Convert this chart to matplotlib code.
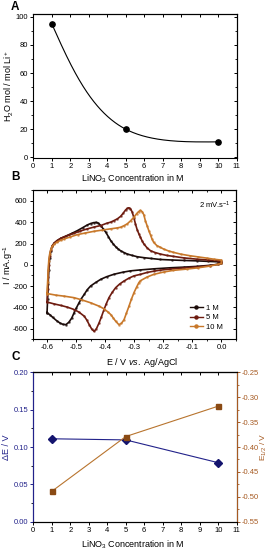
import numpy as np
import matplotlib
matplotlib.use('Agg')
import matplotlib.pyplot as plt
from matplotlib.ticker import MultipleLocator, FormatStrFormatter
from matplotlib.lines import Line2D

plt.rcParams['font.family'] = ['Liberation Sans', 'DejaVu Sans']
plt.rcParams['axes.unicode_minus'] = False
plt.rcParams['mathtext.fontset'] = 'custom'
plt.rcParams['mathtext.rm'] = 'Liberation Sans'
plt.rcParams['mathtext.it'] = 'Liberation Sans:italic'
plt.rcParams['axes.linewidth'] = 0.8

# ---------------- data ----------------
# Panel A
conc_A = [1, 5, 10]
water_per_li = [95, 20, 11]

# Panel B : cyclic voltammograms (E in V, I in mA/g), anodic branch then cathodic branch
E_1M_up = [-0.600, -0.598, -0.596, -0.594, -0.591, -0.587, -0.582, -0.575, -0.565, -0.552,
           -0.535, -0.515, -0.495, -0.478, -0.461, -0.450, -0.440, -0.432, -0.424, -0.415,
           -0.406, -0.398, -0.389, -0.381, -0.372, -0.364, -0.355, -0.347, -0.335, -0.324,
           -0.307, -0.290, -0.267, -0.244, -0.210, -0.170, -0.130, -0.085, -0.045, -0.011, 0.000]
I_1M_up = [-450, -320, -180, -50, 60, 130, 175, 205, 228, 250,
           270, 295, 322, 348, 375, 388, 396, 398, 392, 369,
           335, 306, 265, 227, 195, 170, 148, 132, 115, 101,
           88, 76, 67, 60, 50, 45, 41, 37, 32, 28, 25]
E_1M_dn = [0.000, -0.011, -0.040, -0.085, -0.130, -0.176, -0.233, -0.279, -0.313, -0.340,
           -0.370, -0.395, -0.415, -0.432, -0.450, -0.462, -0.472, -0.482, -0.490, -0.500,
           -0.507, -0.515, -0.525, -0.535, -0.545, -0.555, -0.567, -0.580, -0.590, -0.600]
I_1M_dn = [15, 5, -5, -15, -22, -28, -38, -48, -57, -70,
           -89, -112, -136, -165, -199, -235, -278, -318, -357, -410,
           -451, -500, -540, -562, -560, -548, -525, -495, -470, -450]

E_5M_up = [-0.600, -0.598, -0.596, -0.594, -0.591, -0.587, -0.582, -0.575, -0.565, -0.552,
           -0.541, -0.525, -0.507, -0.485, -0.461, -0.438, -0.415, -0.395, -0.381, -0.370,
           -0.358, -0.347, -0.338, -0.330, -0.324, -0.319, -0.313, -0.307, -0.301, -0.296,
           -0.290, -0.284, -0.279, -0.273, -0.267, -0.256, -0.244, -0.228, -0.210, -0.188,
           -0.165, -0.130, -0.085, -0.045, -0.011, 0.000]
I_5M_up = [-350, -230, -110, 0, 80, 140, 180, 205, 228, 250,
           262, 280, 296, 318, 338, 355, 369, 390, 401, 415,
           432, 455, 485, 515, 530, 536, 528, 495, 440, 385,
           330, 290, 260, 225, 196, 160, 132, 115, 101, 88,
           79, 65, 53, 45, 38, 35]
E_5M_dn = [0.000, -0.011, -0.040, -0.085, -0.130, -0.176, -0.210, -0.233, -0.256, -0.279,
           -0.301, -0.318, -0.335, -0.350, -0.364, -0.376, -0.387, -0.396, -0.404, -0.413,
           -0.421, -0.430, -0.438, -0.446, -0.455, -0.463, -0.472, -0.490, -0.507, -0.530,
           -0.552, -0.575, -0.600]
I_5M_dn = [15, 5, -8, -20, -30, -40, -50, -60, -72, -90,
           -104, -125, -152, -180, -215, -260, -309, -365, -420, -490,
           -546, -600, -625, -605, -562, -520, -483, -445, -420, -398,
           -382, -368, -350]

E_10M_up = [-0.600, -0.598, -0.596, -0.594, -0.591, -0.587, -0.582, -0.575, -0.565, -0.552,
            -0.541, -0.520, -0.495, -0.470, -0.438, -0.410, -0.381, -0.360, -0.347, -0.335,
            -0.324, -0.312, -0.301, -0.292, -0.285, -0.279, -0.273, -0.267, -0.262, -0.256,
            -0.250, -0.244, -0.239, -0.233, -0.222, -0.210, -0.199, -0.182, -0.165, -0.140,
            -0.108, -0.080, -0.051, -0.025, 0.000]
I_10M_up = [-270, -160, -50, 40, 100, 145, 175, 195, 215, 232,
            243, 262, 284, 298, 315, 326, 338, 346, 353, 368,
            385, 415, 448, 480, 500, 511, 500, 470, 416, 369,
            322, 280, 243, 210, 180, 164, 148, 130, 117, 100,
            85, 74, 63, 52, 44]
E_10M_dn = [0.000, -0.011, -0.040, -0.080, -0.119, -0.165, -0.199, -0.233, -0.256, -0.279,
            -0.284, -0.292, -0.301, -0.310, -0.318, -0.327, -0.335, -0.344, -0.353, -0.364,
            -0.372, -0.381, -0.392, -0.404, -0.420, -0.450, -0.480, -0.507, -0.540, -0.570, -0.600]
I_10M_dn = [15, 5, -12, -28, -40, -52, -68, -90, -115, -150,
            -167, -210, -262, -325, -388, -455, -515, -550, -562, -530,
            -500, -467, -440, -414, -390, -357, -330, -309, -295, -285, -270]

cv_labels = ['1 M', '5 M', '10 M']
cv_colors = ['#1c0c0a', '#6e1c10', '#c8782a']

# Panel C
conc_C = [1, 5, 10]
delta_E = [0.111, 0.1095, 0.079]
E_half = [-0.489, -0.379, -0.318]

FS_TICK = 5.5
FS_LAB = 6.5
W, H = 269, 550

fig = plt.figure(figsize=(W / 100, H / 100), dpi=100)


def natural_spline(t, f, tq):
    t = np.asarray(t, float); f = np.asarray(f, float)
    n = len(t); h = np.diff(t)
    A = np.zeros((n, n)); r = np.zeros(n)
    A[0, 0] = 1; A[-1, -1] = 1
    for i in range(1, n - 1):
        A[i, i - 1] = h[i - 1]; A[i, i] = 2 * (h[i - 1] + h[i]); A[i, i + 1] = h[i]
        r[i] = 6 * ((f[i + 1] - f[i]) / h[i] - (f[i] - f[i - 1]) / h[i - 1])
    M = np.linalg.solve(A, r)
    idx = np.clip(np.searchsorted(t, tq) - 1, 0, n - 2)
    t0 = t[idx]; t1 = t[idx + 1]; hh = t1 - t0
    a = (t1 - tq) / hh; b = (tq - t0) / hh
    return a * f[idx] + b * f[idx + 1] + ((a ** 3 - a) * M[idx] + (b ** 3 - b) * M[idx + 1]) * hh ** 2 / 6


def screen_spline(ax, x, y, n=300):
    """Parametric natural spline in screen space (like Origin's spline connect)."""
    fw, fh = fig.get_size_inches() * fig.dpi
    pos = ax.get_position()
    x0, x1 = ax.get_xlim(); y0, y1 = ax.get_ylim()
    sx = pos.width * fw / (x1 - x0); sy = pos.height * fh / (y1 - y0)
    px = (np.asarray(x, float) - x0) * sx
    py = (np.asarray(y, float) - y0) * sy
    s = np.concatenate([[0], np.cumsum(np.hypot(np.diff(px), np.diff(py)))])
    tq = np.linspace(0, s[-1], n)
    return natural_spline(s, px, tq) / sx + x0, natural_spline(s, py, tq) / sy + y0


def style(ax, xmaj, xmin, ymaj, ymin, right_in=True):
    ax.tick_params(which='major', direction='out', length=2.3, width=0.7, labelsize=FS_TICK, pad=1.3)
    ax.tick_params(which='minor', direction='out', length=1.4, width=0.6)
    ax.xaxis.set_major_locator(MultipleLocator(xmaj))
    ax.yaxis.set_major_locator(MultipleLocator(ymaj))
    if xmin:
        ax.xaxis.set_minor_locator(MultipleLocator(xmin))
    if ymin:
        ax.yaxis.set_minor_locator(MultipleLocator(ymin))
    top = ax.secondary_xaxis('top')
    top.xaxis.set_major_locator(MultipleLocator(xmaj))
    if xmin:
        top.xaxis.set_minor_locator(MultipleLocator(xmin))
    top.tick_params(which='major', direction='in', length=2.3, width=0.7, labeltop=False)
    top.tick_params(which='minor', direction='in', length=1.4, width=0.6)
    if right_in:
        right = ax.secondary_yaxis('right')
        right.yaxis.set_major_locator(MultipleLocator(ymaj))
        if ymin:
            right.yaxis.set_minor_locator(MultipleLocator(ymin))
        right.tick_params(which='major', direction='in', length=2.3, width=0.7, labelright=False)
        right.tick_params(which='minor', direction='in', length=1.4, width=0.6)


def fx(px):
    return px / W


def fy(py):
    return 1 - py / H


# ---------------- Panel A ----------------
axA = fig.add_axes([fx(33.3), fy(158.3), (236.7 - 33.3) / W, (158.3 - 14) / H])
axA.set_xlim(0, 11)
axA.set_ylim(-0.7, 102)
xs, ys = screen_spline(axA, conc_A, water_per_li)
axA.plot(xs, ys, color='black', lw=0.8)
axA.plot(conc_A, water_per_li, 'o', color='black', ms=3.8)
style(axA, 1, None, 20, 10)
axA.set_xlabel('LiNO$_3$ Concentration in M', fontsize=FS_LAB)
axA.set_ylabel('H$_2$O mol / mol Li$^+$', fontsize=FS_LAB)
axA.xaxis.set_label_coords(0.49, -0.10)
axA.yaxis.set_label_coords(-0.085, 0.5)

# ---------------- Panel B ----------------
axB = fig.add_axes([fx(32.5), fy(339.3), (236 - 32.5) / W, (339.3 - 190.3) / H])
axB.set_xlim(-0.65, 0.05)
axB.set_ylim(-700, 700)
cv_E = [E_1M_up + E_1M_dn, E_5M_up + E_5M_dn, E_10M_up + E_10M_dn]
cv_I = [I_1M_up + I_1M_dn, I_5M_up + I_5M_dn, I_10M_up + I_10M_dn]
handles = []
for E, I, lab, col in zip(cv_E, cv_I, cv_labels, cv_colors):
    axB.plot(E, I, '-', color=col, lw=1.2, solid_joinstyle='round')
    axB.plot(E, I, 'o', color=col, ms=0.9, alpha=0.6)
    handles.append(Line2D([], [], color=col, lw=1.0, marker='o', ms=2.2, label=lab))
style(axB, 0.1, 0.05, 200, 100)
axB.xaxis.set_major_formatter(FormatStrFormatter('%.1f'))
axB.set_xlabel('E / V $\\it{vs.}$ Ag/AgCl', fontsize=FS_LAB)
axB.set_ylabel('I / mA.g$^{-1}$', fontsize=FS_LAB)
axB.xaxis.set_label_coords(0.54, -0.11)
axB.yaxis.set_label_coords(-0.086, 0.5)
axB.text(0.975, 0.9, '2 mV.s$^{-1}$', transform=axB.transAxes, ha='right', va='center', fontsize=FS_TICK)
axB.legend(handles=handles, loc='lower right', bbox_to_anchor=(0.96, 0.02), frameon=False,
           fontsize=FS_TICK, handlelength=1.6, handletextpad=0.4, labelspacing=0.3, borderpad=0.2)

# ---------------- Panel C ----------------
navy = '#22228a'
brown = '#a65a22'
axC = fig.add_axes([fx(33.3), fy(521.7), (236.7 - 33.3) / W, (521.7 - 372.3) / H])
axC.set_xlim(0, 11)
axC.set_ylim(0, 0.2)
axC.plot(conc_C, delta_E, '-D', color=navy, lw=0.8, ms=3.6, mfc='#14146e', mec='#14146e')
style(axC, 1, None, 0.05, 0.025, right_in=False)
axC.yaxis.set_major_formatter(FormatStrFormatter('%.2f'))
axC.tick_params(axis='y', colors=navy)
axC.spines['left'].set_color(navy)
axC.set_xlabel('LiNO$_3$ Concentration in M', fontsize=FS_LAB)
axC.set_ylabel('ΔE / V', fontsize=FS_LAB, color=navy)
axC.xaxis.set_label_coords(0.49, -0.113)
axC.yaxis.set_label_coords(-0.11, 0.5)

axC2 = axC.twinx()
axC2.set_position(axC.get_position())
axC2.set_ylim(-0.55, -0.25)
axC2.plot(conc_C, E_half, '-s', color='#b8742e', lw=0.8, ms=3.6, mfc='#8a4a14', mec='#8a4a14')
axC2.yaxis.set_major_locator(MultipleLocator(0.05))
axC2.yaxis.set_minor_locator(MultipleLocator(0.025))
axC2.yaxis.set_major_formatter(FormatStrFormatter('%.2f'))
axC2.tick_params(which='major', direction='out', length=2.3, width=0.7, labelsize=FS_TICK, pad=1.0, colors=brown)
axC2.tick_params(which='minor', direction='out', length=1.4, width=0.6, colors=brown)
axC2.spines['right'].set_color(brown)
axC2.spines['left'].set_color(navy)
axC2.set_ylabel('E$_{1/2}$ / V', fontsize=6.0, color=brown)
axC2.yaxis.set_label_coords(1.108, 0.5)

# Panel letters
for letter, (px, py) in zip(['A', 'B', 'C'], [(15, 7), (16, 177.5), (15.5, 356.5)]):
    fig.text(fx(px), fy(py), letter, fontsize=8.5, fontweight='bold', ha='center', va='center')

fig.savefig('out.png', dpi=100)
